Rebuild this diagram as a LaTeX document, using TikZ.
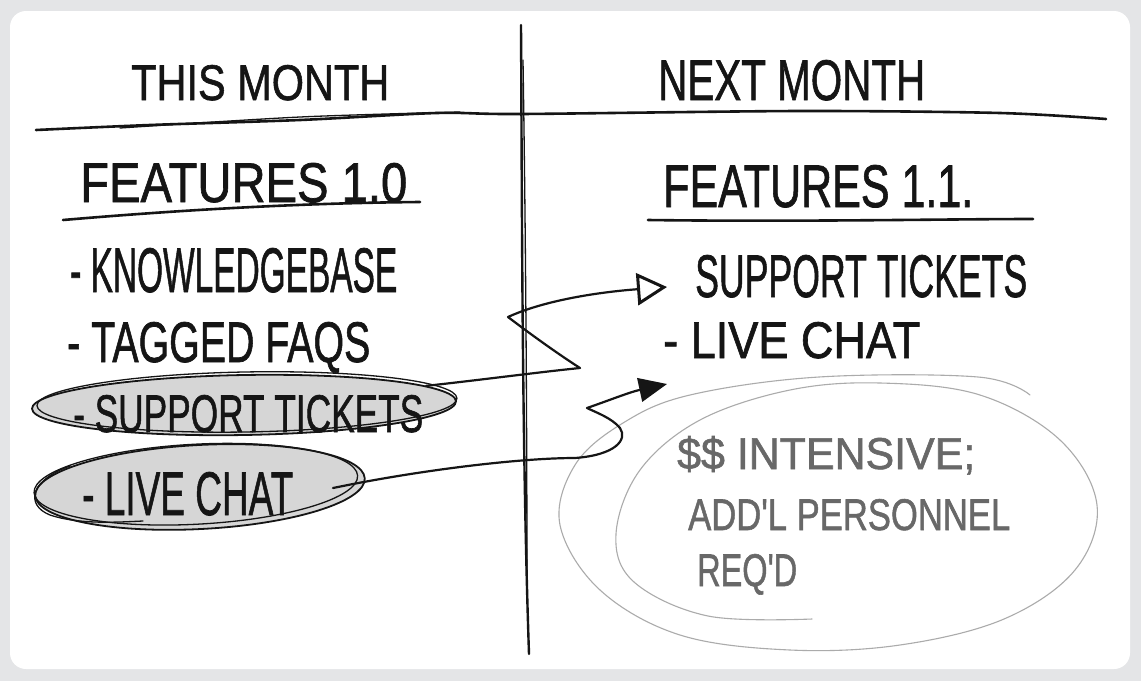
\documentclass[tikz,border=0pt]{standalone}
\usepackage{fontspec}
\setmainfont{Liberation Sans}
\newfontfamily\penfont{Liberation Sans}[FakeBold=1.3]
\usetikzlibrary{shapes.geometric,arrows.meta}
\definecolor{pagebg}{HTML}{E4E5E7}
\definecolor{ink}{HTML}{151515}
\definecolor{pencil}{HTML}{686868}
\definecolor{shade}{HTML}{D6D6D6}
\definecolor{faint}{HTML}{ABABAB}
% hand lettering: capitals stretched to a given width and cap height
\newcommand{\hand}[3]{\resizebox{#1pt}{#2pt}{\penfont #3}}

\begin{document}
\begin{tikzpicture}[x=1pt,y=-1pt,
  lbl/.style={inner sep=0pt, anchor=base west, text=ink},
  memo/.style={lbl, text=pencil},
  pen/.style={draw=ink, line width=2.6pt, line cap=round, line join=round},
  fine pen/.style={draw=ink, line width=1.3pt, line cap=round, line join=round},
  pencil line/.style={draw=faint, line width=1.1pt, line cap=round},
  bubble/.style={ellipse, draw=ink, fill=shade, line width=1.8pt, inner sep=0pt},
  link/.style={draw=ink, line width=2.2pt, line cap=round, line join=round},
]
\useasboundingbox (0,0) rectangle (1141,681);
\fill[pagebg] (0,0) rectangle (1141,681);
\fill[white, rounded corners=16pt] (10,11) rectangle (1130,669);

% column divider and header rule
\draw[pen, line width=2.4pt] (521,25) .. controls (522,200) and (522,450) .. (529,654);
\draw[fine pen] (523,60) .. controls (526,250) and (527,450) .. (527,600);
\draw[pen] plot[smooth] coordinates {(36,130) (150,125) (300,120) (437,113) (521,114) (800,111) (1000,113) (1106,119)};
\draw[fine pen] plot[smooth] coordinates {(120,128) (300,117) (460,112)};

% column headings
\node[lbl] (this) at (131,100) {\hand{258}{35}{THIS MONTH}};
\node[lbl] (next) at (658,100) {\hand{267}{40}{NEXT MONTH}};

% release headings with underlines
\node[lbl] (f10) at (80,202) {\hand{327}{39}{FEATURES 1.0}};
\draw[pen] (63,220) .. controls (180,210) and (300,203) .. (420,202);
\node[lbl] (f11) at (663,207) {\hand{310}{42}{FEATURES 1.1.}};
\draw[pen] (648,220) .. controls (800,222) and (950,219) .. (1033,219);

% highlighted items
\node[bubble, minimum width=424pt, minimum height=60pt, rotate=1] (stb) at (244,405) {};
\draw[fine pen, rotate around={1:(244,405)}] (247,402) ellipse [x radius=210pt, y radius=30pt];
\node[bubble, minimum width=330pt, minimum height=84pt, rotate=3] (lcb) at (200,487) {};
\draw[fine pen, rotate around={3:(200,487)}] (196,484) ellipse [x radius=162pt, y radius=40pt];
\draw[fine pen] (70,466) .. controls (30,480) and (25,505) .. (50,515) .. controls (80,525) and (120,522) .. (143,521);

% this month's list
\node[lbl] (kb) at (70,292) {\hand{327}{44}{- KNOWLEDGEBASE}};
\node[lbl] (tf) at (67,362) {\hand{303}{40}{- TAGGED FAQS}};
\node[lbl] (st) at (73,432) {\hand{350}{37}{- SUPPORT TICKETS}};
\node[lbl] (lc) at (82,515) {\hand{211}{43}{- LIVE CHAT}};

% next month's list
\node[lbl] (rs) at (695,297) {\hand{332}{42}{SUPPORT TICKETS}};
\node[lbl] (rl) at (663,358) {\hand{257}{36}{- LIVE CHAT}};

% pencilled note and its loop
\draw[pencil line] plot[smooth, tension=0.6] coordinates {(812,619) (708,616) (634,582) (616,534) (640,470) (700,420) (790,390) (880,383) (980,395) (1060,440) (1097,505) (1075,570) (1004,619) (900,645) (790,650) (680,635) (600,590) (560,525) (575,465) (623,423) (690,395) (819,377) (978,377) (1030,395)};
\node[memo] (n1) at (677,469) {\hand{298}{33}{\$\$ INTENSIVE;}};
\node[memo] (n2) at (688,530) {\hand{322}{31}{ADD'L PERSONNEL}};
\node[memo] (n3) at (697,586) {\hand{100}{32}{REQ'D}};

% moves into next month
\coordinate (lcdash) at (333,488);
\coordinate (t1) at (667,287);
\coordinate (t2) at (667,384);
\draw[link, -{Triangle[open, length=30pt, width=32pt, line width=3pt]}]
  (stb.5) .. controls (480,380) and (540,372) .. (580,368)
  .. controls (555,352) and (525,330) .. (508,317)
  .. controls (545,300) and (600,292) .. (t1);
\draw[link, -{Triangle[length=28pt, width=24pt]}]
  (lcdash) .. controls (420,470) and (520,458) .. (575,458)
  .. controls (615,455) and (628,440) .. (620,428)
  .. controls (612,418) and (595,412) .. (587,408)
  .. controls (610,400) and (630,392) .. (t2);
\end{tikzpicture}
\end{document}
